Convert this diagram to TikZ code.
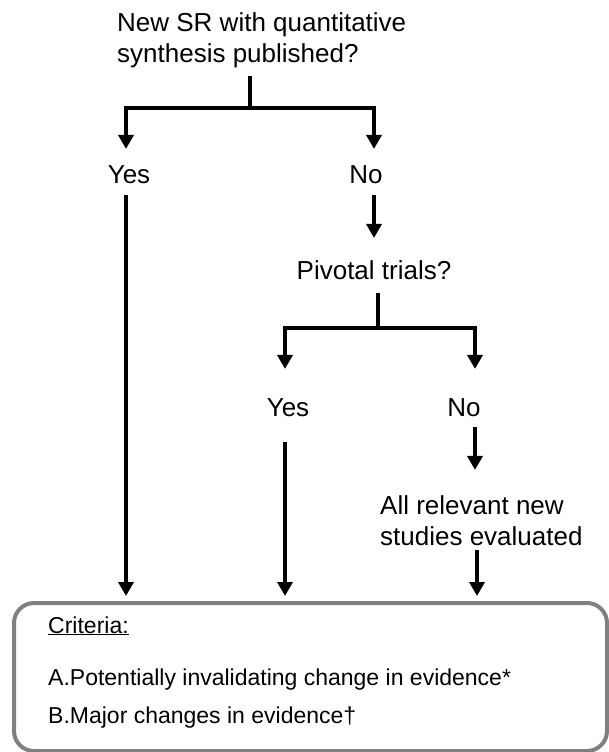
\documentclass[tikz,border=0pt]{standalone}
\usepackage{fontspec}
\setmainfont{Liberation Sans}
\usetikzlibrary{positioning, arrows.meta}
\tikzset{
    txt/.style = {
        inner sep = 0pt,
        font = \fontsize{26}{31}\selectfont
    },
    crittxt/.style = {
        inner sep = 0pt,
        anchor = base west,
        font = \fontsize{23}{28}\selectfont
    },
    stem/.style = {line width = 3.5pt},
    arrowline/.style = {line width = 3.5pt, -{Triangle[width=15pt, length=14pt]}}
}

\begin{document}
\begin{tikzpicture}[x=1pt, y=-1pt]
\useasboundingbox (0,0) rectangle (608,752);

% First question
\node[txt, align=left, anchor=base west] (srq) at (117,63) {New SR with quantitative\\synthesis published?};
\coordinate (split1) at (250,108);
\node[txt, anchor=base] (yes1) at (129,183) {Yes};
\node[txt, anchor=base] (no1) at (366,183) {No};

% Second question
\node[txt, anchor=base] (pivq) at (374,279) {Pivotal trials?};
\coordinate (split2) at (378,328);
\node[txt, anchor=base] (yes2) at (288,416) {Yes};
\node[txt, anchor=base] (no2) at (464,416) {No};
\node[txt, align=left, anchor=base west] (allnew) at (380,545) {All relevant new\\studies evaluated};

% Criteria box
\node[draw = gray, line width = 4pt, rounded corners = 20pt,
    minimum width = 593pt, minimum height = 148pt,
    inner sep = 0pt, anchor = north west,
] (crit) at (12,601) {};
\node[crittxt] (critA) at (48,633) {\underline{Criteria:}};
\node[crittxt] (critB) at (48,685) {A.Potentially invalidating change in evidence*};
\node[crittxt] (critC) at (48,723) {B.Major changes in evidence\textdagger};

% Lines
\draw[stem, shorten <=7pt] (srq.south -| split1) -- (split1);
\draw[arrowline, shorten >=16pt] (split1) -| ([xshift=-3pt]yes1.north);
\draw[arrowline, shorten >=16pt] (split1) -| ([xshift=8pt]no1.north);
\draw[arrowline, shorten <=12pt, shorten >=5pt] ([xshift=-3pt]yes1.south) -- ([xshift=-3pt]yes1.south |- crit.north);
\draw[arrowline, shorten <=12pt, shorten >=22pt] ([xshift=8pt]no1.south) -- (pivq.north);
\draw[stem, shorten <=14pt] (pivq.south -| split2) -- (split2);
\draw[arrowline, shorten >=29pt] (split2) -| ([xshift=-3pt]yes2.north);
\draw[arrowline, shorten >=29pt] (split2) -| ([xshift=11pt]no2.north);
\draw[arrowline, shorten <=26pt, shorten >=5pt] ([xshift=-3pt]yes2.south) -- ([xshift=-3pt]yes2.south |- crit.north);
\draw[arrowline, shorten <=11pt, shorten >=25pt] ([xshift=11pt]no2.south) -- ([xshift=11pt]no2.south |- allnew.north);
\draw[arrowline, shorten <=5pt, shorten >=5pt] ([xshift=13pt]no2 |- allnew.south) -- ([xshift=13pt]no2 |- crit.north);

\end{tikzpicture}
\end{document}
